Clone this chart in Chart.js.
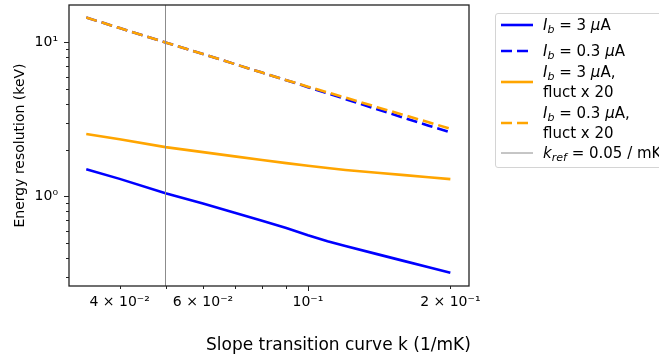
<!DOCTYPE html>
<html>
<head>
<meta charset="utf-8">
<title>Energy resolution vs slope</title>
<script src="https://cdn.jsdelivr.net/npm/chart.js@4.4.1/dist/chart.umd.min.js"></script>
<style>
    body { margin: 0; background: #fff; }
    #wrap { position: relative; width: 659px; height: 360px; overflow: hidden; font-family: 'DejaVu Sans', sans-serif; }
    #legend {
        position: absolute; left: 495px; top: 13px; width: 200px; height: 155px;
        box-sizing: border-box; border: 1px solid #d4d4d4; border-radius: 3px;
        background: rgba(255, 255, 255, 0.8);
    }
    .entry { position: absolute; left: 0; width: 100%; }
    .entry svg { position: absolute; left: 5px; }
    .entry .txt { position: absolute; left: 47px; font-size: 15px; line-height: 20px; color: #000; white-space: nowrap; }
    .txt sub { font-size: 11px; vertical-align: -3px; line-height: 0; }
</style>
</head>
<body>
<div id="wrap">
    <canvas id="chart" width="659" height="360"></canvas>
    <div id="legend"></div>
</div>
<script>
// slope k (1/mK) at which the curves were sampled
const kValues = [0.034, 0.04, 0.05, 0.06, 0.07, 0.08, 0.09, 0.1, 0.11, 0.12, 0.14, 0.16, 0.18, 0.2];

// energy resolution (keV)
const resBlueSolid    = [1.50, 1.30, 1.05, 0.90, 0.783, 0.695, 0.624, 0.560, 0.512, 0.476, 0.422, 0.380, 0.347, 0.319];
const resBlueDashed   = [14.5, 12.4, 10.0, 8.40, 7.24, 6.37, 5.69, 5.12, 4.67, 4.29, 3.68, 3.23, 2.88, 2.61];
const resOrangeSolid  = [2.54, 2.35, 2.09, 1.94, 1.82, 1.725, 1.646, 1.58, 1.53, 1.486, 1.426, 1.375, 1.333, 1.295];
const resOrangeDashed = [14.5, 12.4, 10.0, 8.40, 7.24, 6.37, 5.69, 5.16, 4.74, 4.38, 3.80, 3.37, 3.03, 2.75];

const kRef = 0.05;

const seriesLabels = ['I_b = 3 μA', 'I_b = 0.3 μA', 'I_b = 3 μA,\nfluct x 20', 'I_b = 0.3 μA,\nfluct x 20', 'k_ref = 0.05 / mK'];

// axis ranges and ticks
const xMin = 0.03126, xMax = 0.219;
const yMin = 0.262, yMax = 17.5;
const xTicks      = [0.04, 0.05, 0.06, 0.07, 0.08, 0.09, 0.1, 0.2];
const xTickLabels = ['4 × 10⁻²', '', '6 × 10⁻²', '', '', '', '10⁻¹', '2 × 10⁻¹'];
const xMajor = [0.1];
const yTicks = [0.3, 0.4, 0.5, 0.6, 0.7, 0.8, 0.9, 1, 2, 3, 4, 5, 6, 7, 8, 9, 10];
const yMajor = [1, 10];
const yMajorLabels = ['10⁰', '10¹'];

const xTitle = 'Slope transition curve k (1/mK)';
const yTitle = 'Energy resolution (keV)';

const BLUE = '#0000ff';
const ORANGE = '#ffa500';
const FONT = "'DejaVu Sans', sans-serif";

const toPoints = (ys) => kValues.map((k, i) => ({ x: k, y: ys[i] }));

const datasets = [
    { label: seriesLabels[0], data: toPoints(resBlueSolid), borderColor: BLUE, order: 5 },
    { label: seriesLabels[1], data: toPoints(resBlueDashed), borderColor: BLUE, borderDash: [11, 5], order: 4 },
    { label: seriesLabels[2], data: toPoints(resOrangeSolid), borderColor: ORANGE, order: 3 },
    { label: seriesLabels[3], data: toPoints(resOrangeDashed), borderColor: ORANGE, borderDash: [11, 5], order: 2 },
    { label: seriesLabels[4], data: [{ x: kRef, y: yMin }, { x: kRef, y: yMax }], borderColor: '#8c8c8c', borderWidth: 1, order: 1 }
].map(d => Object.assign({ borderWidth: 2.6, pointRadius: 0, tension: 0, fill: false, borderCapStyle: 'butt' }, d));

// frame, minor/major tick marks and the x title
const axesDecor = {
    id: 'axesDecor',
    afterDatasetsDraw(chart) {
        const { ctx, chartArea: a, scales: { x, y } } = chart;
        ctx.save();
        ctx.strokeStyle = '#222';
        ctx.lineWidth = 1;
        ctx.beginPath();
        [0.03, ...xTicks].forEach(v => {
            if (v < xMin || v > xMax) return;
            const px = Math.round(x.getPixelForValue(v)) + 0.5;
            const len = xMajor.includes(v) ? 5 : 3;
            ctx.moveTo(px, a.bottom);
            ctx.lineTo(px, a.bottom + len);
        });
        yTicks.forEach(v => {
            const py = Math.round(y.getPixelForValue(v)) + 0.5;
            const len = yMajor.includes(v) ? 5 : 3;
            ctx.moveTo(a.left, py);
            ctx.lineTo(a.left - len, py);
        });
        ctx.stroke();

        ctx.lineWidth = 1.3;
        ctx.strokeRect(a.left, a.top, a.right - a.left, a.bottom - a.top);

        ctx.fillStyle = '#000';
        ctx.font = '17px ' + FONT;
        ctx.textBaseline = 'middle';
        ctx.textAlign = 'left';
        ctx.fillText(xTitle, 206, 346);
        ctx.restore();
    }
};

new Chart(document.getElementById('chart'), {
    type: 'line',
    data: { datasets: datasets },
    plugins: [axesDecor],
    options: {
        responsive: false,
        animation: false,
        layout: { padding: { left: 0, top: 5, right: 190, bottom: 0 } },
        plugins: { legend: { display: false }, tooltip: { enabled: false } },
        scales: {
            x: {
                type: 'logarithmic',
                min: xMin,
                max: xMax,
                grid: { display: false },
                border: { display: false },
                afterFit: (s) => { s.height = 74; s.paddingLeft = 0; s.paddingRight = 0; },
                afterBuildTicks: (s) => { s.ticks = xTicks.map(v => ({ value: v })); },
                ticks: {
                    autoSkip: false,
                    maxRotation: 0,
                    minRotation: 0,
                    padding: 0,
                    color: '#000',
                    font: { family: FONT, size: 14 },
                    callback: (v, i) => xTickLabels[i]
                }
            },
            y: {
                type: 'logarithmic',
                min: yMin,
                max: yMax,
                grid: { display: false },
                border: { display: false },
                afterFit: (s) => { s.width = 69; s.paddingTop = 0; s.paddingBottom = 0; },
                afterBuildTicks: (s) => { s.ticks = yTicks.map(v => ({ value: v })); },
                title: {
                    display: true,
                    text: yTitle,
                    color: '#000',
                    font: { family: FONT, size: 14 },
                    padding: { top: 12, bottom: 0 }
                },
                ticks: {
                    autoSkip: false,
                    padding: 3,
                    color: '#000',
                    font: { family: FONT, size: 14 },
                    callback: (v) => {
                        const j = yMajor.indexOf(v);
                        return j >= 0 ? yMajorLabels[j] : '';
                    }
                }
            }
        }
    }
});

// legend drawn as html so the subscripts stay real text
const legendCenters = [11, 37, 68, 109, 139];
function fmtLabel(s) {
    return s.split('\n').map(line => line
        .replace(/μ/g, '<i>μ</i>')
        .replace(/([A-Za-z])_(\w+)/, '<i>$1</i><sub><i>$2</i></sub>')).join('<br>');
}
const legendEl = document.getElementById('legend');
datasets.forEach((d, i) => {
    const lines = d.label.split('\n').length;
    const c = legendCenters[i];
    const dash = d.borderDash ? `stroke-dasharray="${d.borderDash.join(' ')}"` : '';
    const w = d.borderWidth;
    legendEl.insertAdjacentHTML('beforeend', `
        <div class="entry" style="top:0">
            <svg width="34" height="10" style="top:${c - 5}px"><line x1="0" y1="5" x2="32" y2="5" stroke="${d.borderColor}" stroke-width="${w}" ${dash}/></svg>
            <div class="txt" style="top:${c - lines * 10}px">${fmtLabel(d.label)}</div>
        </div>`);
});
</script>
</body>
</html>
